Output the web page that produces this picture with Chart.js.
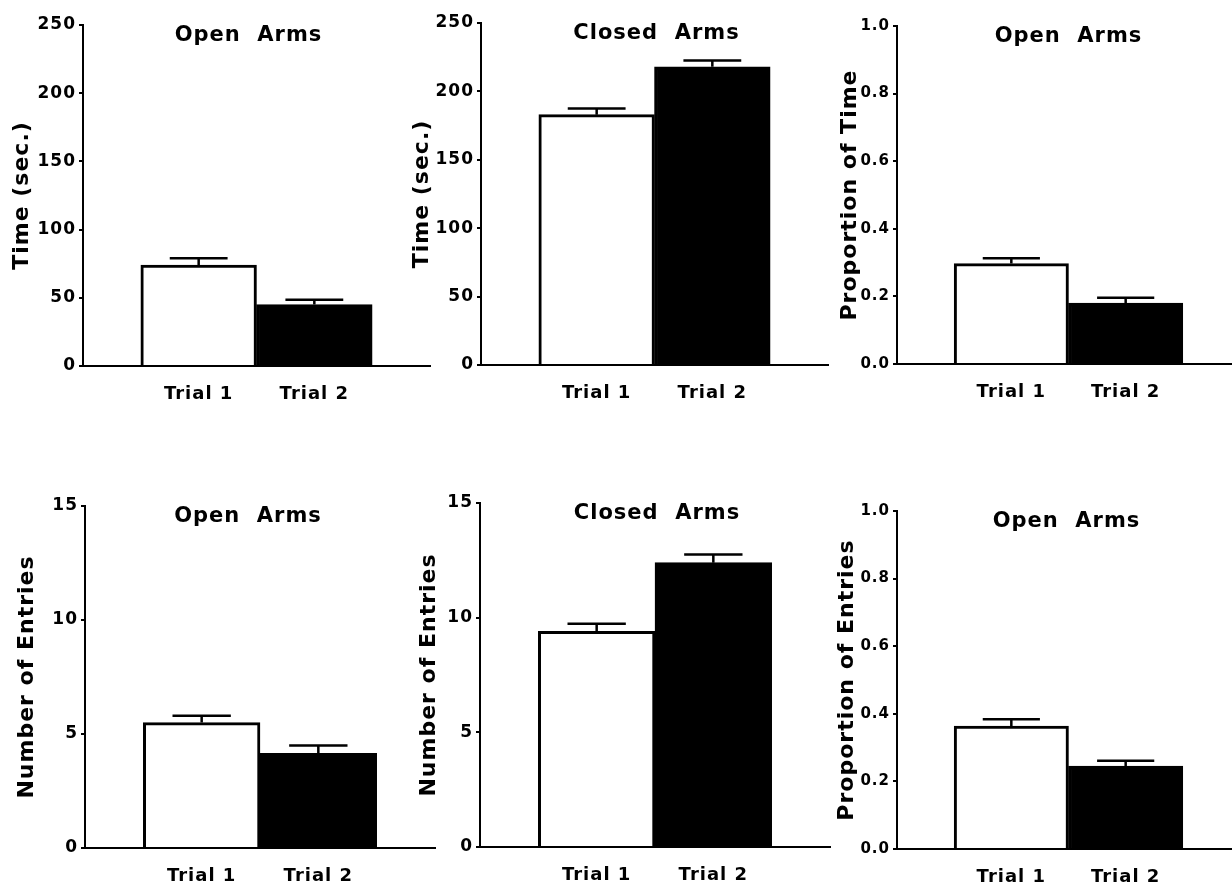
<!DOCTYPE html>
<html>
<head>
<meta charset="utf-8">
<script src="https://cdn.jsdelivr.net/npm/chart.js@4"></script>
<style>
html, body { margin: 0; padding: 0; background: #fff; width: 1232px; height: 884px; overflow: hidden; position: relative; }
canvas { position: absolute; }
</style>
</head>
<body>
<script>
// categories
const trials = ["Trial 1", "Trial 2"];

// top row: time
const timeOpen = [74, 45];
const timeOpenErr = [5, 3.5];
const timeClosed = [183, 218];
const timeClosedErr = [4.5, 4.5];
const propTimeOpen = [0.297, 0.18];
const propTimeOpenErr = [0.016, 0.016];

// bottom row: entries
const entriesOpen = [5.5, 4.15];
const entriesOpenErr = [0.3, 0.35];
const entriesClosed = [9.4, 12.4];
const entriesClosedErr = [0.33, 0.35];
const propEntriesOpen = [0.364, 0.245];
const propEntriesOpenErr = [0.02, 0.016];

const FONT = "'DejaVu Sans', sans-serif";
Chart.defaults.font.family = FONT;
Chart.defaults.font.weight = "bold";
Chart.defaults.color = "#000";

const PAD_TOP = 20;
const X_AXIS_H = 45;
const X_TICK_PAD = 10;

// plotter font looks spaced out
const spacing = {
    id: "spacing",
    beforeLayout(chart) { chart.ctx.letterSpacing = "1px"; },
    beforeDraw(chart) { chart.ctx.letterSpacing = "1px"; }
};

const errorBars = {
    id: "errorBars",
    afterDatasetsDraw(chart, args, opts) {
        const ctx = chart.ctx;
        const y = chart.scales.y;
        const meta = chart.getDatasetMeta(0);
        const values = chart.data.datasets[0].data;
        ctx.save();
        ctx.strokeStyle = "#000";
        ctx.lineWidth = 2.5;
        meta.data.forEach((bar, i) => {
            const top = y.getPixelForValue(values[i].y + opts.err[i]);
            const half = bar.width / 4;
            ctx.beginPath();
            ctx.moveTo(bar.x, bar.y);
            ctx.lineTo(bar.x, top);
            ctx.moveTo(bar.x - half, top);
            ctx.lineTo(bar.x + half, top);
            ctx.stroke();
        });
        ctx.restore();
    }
};

// title sits inside the plot, near the top
const panelTitle = {
    id: "panelTitle",
    afterDraw(chart, args, opts) {
        const { ctx, chartArea } = chart;
        ctx.save();
        ctx.font = "bold 21px " + FONT;
        ctx.fillStyle = "#000";
        ctx.textAlign = "center";
        ctx.textBaseline = "middle";
        ctx.fillText(opts.text, (chartArea.left + chartArea.right) / 2 + (opts.dx || 0), chartArea.top + 11);
        ctx.restore();
    }
};

const panels = [
    { title: "Open  Arms", yTitle: "Time (sec.)", values: timeOpen, err: timeOpenErr, max: 250, step: 50, dec: 0, area: [83, 25, 430, 366], yw: 75, tick: 17, dx: -8 },
    { title: "Closed  Arms", yTitle: "Time (sec.)", values: timeClosed, err: timeClosedErr, max: 250, step: 50, dec: 0, area: [481, 23, 828, 365], yw: 73, tick: 17, dx: 2 },
    { title: "Open  Arms", yTitle: "Proportion of Time", values: propTimeOpen, err: propTimeOpenErr, max: 1, step: 0.2, dec: 1, area: [897, 26, 1240, 364], yw: 61, tick: 15, dx: 0 },
    { title: "Open  Arms", yTitle: "Number of Entries", values: entriesOpen, err: entriesOpenErr, max: 15, step: 5, dec: 0, area: [85, 506, 435, 848], yw: 72, tick: 17, dx: -12 },
    { title: "Closed  Arms", yTitle: "Number of Entries", values: entriesClosed, err: entriesClosedErr, max: 15, step: 5, dec: 0, area: [480, 503, 830, 847], yw: 65, tick: 17, dx: 2 },
    { title: "Open  Arms", yTitle: "Proportion of Entries", values: propEntriesOpen, err: propEntriesOpenErr, max: 1, step: 0.2, dec: 1, area: [897, 511, 1240, 849], yw: 64, tick: 15, dx: -2 }
];

panels.forEach(p => {
    const [l, t, r, b] = p.area;
    const cv = document.createElement("canvas");
    // x ticks padding is also reserved on the right edge
    const w = p.yw + (r - l) + X_TICK_PAD;
    const h = PAD_TOP + (b - t) + X_AXIS_H;
    cv.width = w;
    cv.height = h;
    cv.style.left = (l - p.yw) + "px";
    cv.style.top = (t - PAD_TOP) + "px";
    cv.style.width = w + "px";
    cv.style.height = h + "px";
    document.body.appendChild(cv);

    new Chart(cv, {
        type: "bar",
        data: {
            datasets: [{
                data: p.values.map((v, i) => ({ x: i + 1, y: v })),
                backgroundColor: ["#fff", "#000"],
                borderColor: "#000",
                borderWidth: 3,
                barPercentage: 1,
                categoryPercentage: 1
            }]
        },
        options: {
            responsive: false,
            animation: false,
            events: [],
            layout: { padding: { top: PAD_TOP, left: 0, right: 0, bottom: 0 } },
            plugins: {
                legend: { display: false },
                tooltip: { enabled: false },
                errorBars: { err: p.err },
                panelTitle: { text: p.title, dx: p.dx }
            },
            scales: {
                x: {
                    type: "linear",
                    min: 0,
                    max: 3,
                    offset: false,
                    grid: { display: false, offset: false },
                    border: { color: "#000", width: 2 },
                    ticks: {
                        stepSize: 1,
                        autoSkip: false,
                        maxRotation: 0,
                        padding: X_TICK_PAD,
                        font: { size: 18 },
                        callback: v => trials[v - 1] || ""
                    },
                    afterFit: s => { s.height = X_AXIS_H; }
                },
                y: {
                    min: 0,
                    max: p.max,
                    grid: { drawOnChartArea: false, color: "#000", lineWidth: 2, tickLength: 4 },
                    border: { color: "#000", width: 2 },
                    ticks: {
                        stepSize: p.step,
                        padding: 3,
                        font: { size: p.tick },
                        callback: v => v.toFixed(p.dec)
                    },
                    title: { display: true, text: p.yTitle, font: { size: 22 }, padding: { top: 1, bottom: 0 } },
                    afterFit: s => { s.width = p.yw; }
                }
            }
        },
        plugins: [spacing, errorBars, panelTitle]
    });
});
</script>
</body>
</html>
